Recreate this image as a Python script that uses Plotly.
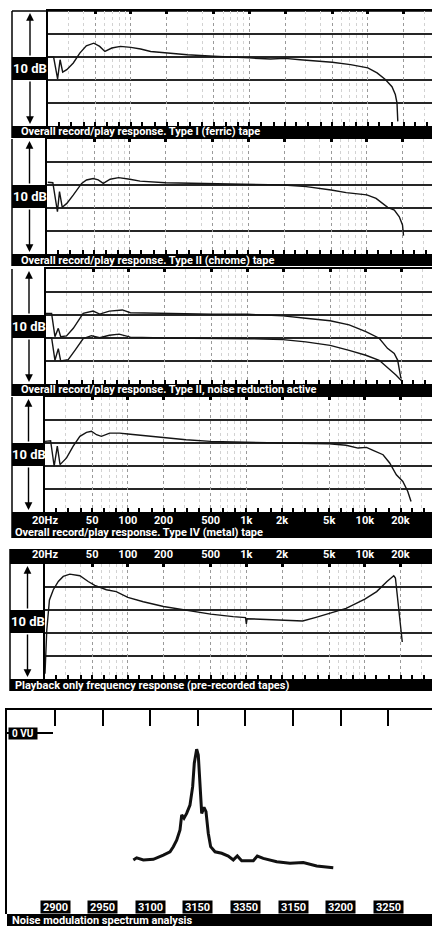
import numpy as np
import plotly.graph_objects as go

W, H = 432, 926
PX_DEC = 118.5   # pixels per decade on the frequency axis
PX_10DB = 23     # pixels per 10 dB division
FONT = "Roboto, Liberation Sans, sans-serif"
INK = "#141414"

############################## data ##############################

ferric_hz = [20, 22.3, 24.1, 25.3, 26.6, 28.8, 32.7, 37.1, 42.1, 48.7, 54.6, 60.4, 69.1, 81.7, 100,
             121, 147, 200, 300, 500, 747, 1000, 1507, 2000, 2686, 3981, 5000, 7142, 10000, 11970,
             14060, 15990, 17060, 17620, 17900]
ferric_db = [0, 0, -9.5, -1.2, -6.6, -5.5, -2.6, 1.7, 4.9, 6.0, 4.6, 2.4, 3.9, 4.6, 4.2,
             3.5, 2.4, 1.7, 1.0, 0.3, 0, -0.4, -0.9, -0.6, -1.2, -1.9, -2.3, -3.3, -4.7, -6.9,
             -9.8, -12.9, -16.3, -19.9, -28]

chrome_hz = [20.3, 22.4, 24.5, 25.5, 26.9, 29.4, 33.4, 39.2, 43.1, 49.1, 54.1, 59.7, 68.2, 80.4, 100,
             122, 200, 500, 1000, 2000, 3083, 3990, 5000, 6700, 8670, 10000, 11970, 15000, 17060,
             18790, 20000, 20400]
chrome_db = [1.2, 1.0, -11.6, -2.9, -9.7, -8.0, -4.3, 0.7, 2.2, 2.8, 2.2, 0.7, 2.5, 3.2, 2.5,
             1.7, 1.0, 0.7, 0.3, 0, -0.7, -1.4, -2.2, -3.3, -4.1, -4.3, -5.8, -9.7, -10.9,
             -13.8, -17.4, -22]

nr_hz = [20, 22.3, 23.8, 25.4, 26.6, 29.8, 34.0, 41.2, 50, 56.8, 68.5, 88.2, 103, 200, 500,
         1000, 2000, 3110, 5000, 7230, 10000, 12970, 15230, 17360, 18550, 19770]
nr_upper_db = [0.7, 0.7, -9.4, -5.8, -9.4, -9.1, -5.8, 0.7, 1.7, 0.4, 1.7, 2.2, 1.0, 0.7, 0.4,
               0.3, -0.4, -1.4, -2.5, -4.3, -7.2, -10.1, -14.5, -16.7, -19.6, -27.5]
nr_low_hz = [20, 22.3, 23.8, 25.4, 26.6, 30.8, 35.1, 41.2, 48.4, 56.8, 68.5, 82.8, 103, 200,
             1000, 2000, 3110, 5000, 7230, 10000, 12970, 15770, 17950, 20000]
nr_lower_db = [-9.9, -9.9, -19.7, -14.6, -20, -19.4, -15.4, -10.3, -9.0, -9.9, -8.8, -8.3, -9.6, -10,
               -10.3, -10.7, -11.7, -13.2, -15.4, -17.5, -19.7, -23.3, -26.1, -28.6]

metal_hz = [20, 22.3, 23.9, 25.4, 26.8, 30.4, 34.6, 39.4, 44.8, 49.3, 54.4, 59.8, 70.3, 85.2, 100,
            134, 200, 310, 500, 1000, 2000, 5000, 6950, 8770, 10330, 11740, 14250, 16200, 18450,
            20930, 23000, 24550]
metal_db = [0.7, 1.0, -10.1, -1.4, -9.4, -6.5, -1.4, 2.9, 4.6, 5.1, 3.6, 2.9, 4.3, 4.3, 3.9,
            3.2, 2.5, 1.4, 0.7, 0.3, 0, -0.3, -1.0, -2.2, -1.9, -3.2, -5.1, -8.7, -13.8,
            -16.7, -21, -25.4]

playback_hz = [20, 20.7, 21.8, 23.5, 25.9, 28.5, 32.4, 39.4, 46.3, 52.6, 65.9, 79.8, 100, 135, 200,
               314, 500, 774, 985, 1000, 1015, 1475, 2000, 2990, 3870, 5000, 6950, 10000, 12590,
               15380, 17540, 18120, 19350, 20700]
playback_db = [-27.7, -8.8, 4.4, 8.8, 12.4, 14.6, 15.6, 14.9, 12.4, 10.7, 8.8, 8.0, 5.5, 3.6, 1.5,
               0, -1.8, -2.9, -3.3, -6.0, -3.8, -4.1, -4.4, -4.8, -3.2, -1.5, 0.7, 4.7, 8.0,
               12.4, 14.9, 13.9, 1.5, -13.9]

spec_hz = [2982.3, 2985.8, 2992.8, 3003.3, 3013.8, 3020.8, 3024.3, 3027.8, 3031.3, 3033.1, 3035.5,
           3038.3, 3041.8, 3044.6, 3046.3, 3048.8, 3050.5, 3052.3, 3054.1, 3056.5, 3058.6, 3061.0,
           3063.5, 3068.1, 3075.1, 3082.0, 3087.3, 3091.5, 3096.1, 3108.3, 3112.5, 3118.8, 3132.9,
           3146.8, 3160.8, 3174.9, 3192.3]
spec_db = [-42.3, -41.6, -42.3, -42.1, -40.7, -39.6, -37.9, -35.7, -32.3, -27.3, -28.4,
           -26.8, -24.0, -17.9, -10.1, -5.4, -7.3, -17.9, -26.8, -24.8, -26.2, -33.4,
           -37.9, -39.6, -40.1, -41.0, -42.3, -41.0, -42.6, -42.6, -41.0, -41.8, -42.9,
           -43.4, -43.2, -44.3, -44.9]

major_hz = [20, 50, 100, 200, 500, 1000, 2000, 5000, 10000, 20000]
major_labels = ["20Hz", "50", "100", "200", "500", "1k", "2k", "5k", "10k", "20k"]
minor_hz = [30, 40, 60, 70, 80, 90, 300, 400, 600, 700, 800, 900,
            3000, 4000, 6000, 7000, 8000, 9000, 30000]
third_oct_hz = [20, 25, 31.5, 40, 50, 63, 80, 100, 125, 160, 200, 250, 315, 400, 500, 630, 800,
                1000, 1250, 1600, 2000, 2500, 3150, 4000, 5000, 6300, 8000, 10000, 12500, 16000,
                20000, 25000, 31500]

spec_ticks = [2900, 2950, 3000, 3050, 3100, 3150, 3200, 3250]
spec_labels = ["2900", "2950", "3100", "3150", "3350", "3150", "3200", "3250"]

############################## helpers ##############################

def py(p):
    return 1 - p / H

def pxx(p):
    return p / W

def rect(x0, y0, x1, y1):
    return dict(type="rect", xref="paper", yref="paper", x0=pxx(x0), x1=pxx(x1), y0=py(y1), y1=py(y0),
                fillcolor="black", line=dict(width=0), layer="below")

def vline(x, y0, y1, w=1.5):
    return dict(type="line", xref="paper", yref="paper", x0=pxx(x), x1=pxx(x), y0=py(y0), y1=py(y1),
                line=dict(color="black", width=w), layer="below")

def bold_font(size, color="white"):
    return dict(family=FONT, size=size, color=color, weight="bold")

def white_text(text, x, y, size=11, **kw):
    return dict(text=text, xref="paper", yref="paper", x=pxx(x), y=py(y), showarrow=False,
                xanchor=kw.pop("xanchor", "left"), yanchor=kw.pop("yanchor", "middle"),
                font=bold_font(size), **kw)

############################## frequency panels ##############################

# top px, x of the 20 Hz line, outer left edge, curves, caption, caption x, caption bar height
panels = [
    (11, 48, 12, [(ferric_hz, ferric_db)], "Overall record/play response. Type I (ferric) tape", 19, 12),
    (139, 47, 12, [(chrome_hz, chrome_db)], "Overall record/play response. Type II (chrome) tape", 19, 12),
    (269, 46, 12, [(nr_hz, nr_upper_db), (nr_low_hz, nr_lower_db)],
     "Overall record/play response. Type II, noise reduction active", 19, 12),
    (397, 45, 12, [(metal_hz, metal_db)], "Overall record/play response. Type IV (metal) tape", 13, 26),
    (564, 45, 10, [(playback_hz, playback_db)], "Playback only frequency response (pre-recorded tapes)", 13, 12),
]

fig = go.Figure()
layout = {}
shapes, annotations = [], []

for i, (top, left, outer, curves, caption, cap_x, cap_h) in enumerate(panels, start=1):
    bottom = top + 5 * PX_10DB
    n = "" if i == 1 else str(i)
    ov = str(i + 6)
    xr = [np.log10(20), np.log10(20) + (W - left) / PX_DEC]

    for hz, db in curves:
        fig.add_trace(go.Scatter(x=hz, y=db, xaxis="x" + n, yaxis="y" + n, mode="lines",
                                 line=dict(color=INK, width=1.4), showlegend=False, hoverinfo="skip"))
    fig.add_trace(go.Scatter(x=[], y=[], xaxis="x" + ov, yaxis="y" + n, showlegend=False))

    bottom_text = [major_labels[major_hz.index(f)] if (i == 4 and f in major_hz) else "" for f in third_oct_hz]
    layout["xaxis" + n] = dict(
        type="log", range=xr, domain=[pxx(left), 1], anchor="y" + n, automargin=False,
        tickmode="array", tickvals=third_oct_hz, ticktext=bottom_text,
        ticks="inside", ticklen=4, tickwidth=1.5, tickcolor="black",
        showticklabels=(i == 4), tickfont=bold_font(11),
        showgrid=False, zeroline=False, showline=False, tickangle=0)
    layout["xaxis" + ov] = dict(
        type="log", range=xr, overlaying="x" + n, anchor="y" + n, side="top", automargin=False,
        tickmode="array", tickvals=major_hz, ticktext=major_labels,
        ticks="inside", ticklen=3, tickwidth=2.5, tickcolor="black",
        showticklabels=(i == 5), tickfont=bold_font(11),
        showgrid=True, gridcolor="#9a9a9a", griddash="dot", gridwidth=1,
        minor=dict(tickmode="array", tickvals=minor_hz, showgrid=True, gridcolor="#d2d2d2",
                   griddash="dot", gridwidth=1, ticks=""),
        showline=True, linecolor="black", linewidth=1.5, zeroline=False, tickangle=0)
    layout["yaxis" + n] = dict(
        range=[-30, 20], domain=[py(bottom), py(top)], anchor="x" + n, automargin=False,
        tickmode="array", tickvals=[-20, -10, 0, 10], showticklabels=False, ticks="",
        showgrid=True, gridcolor="#262626", gridwidth=1.5, zeroline=False,
        showline=True, linecolor="black", linewidth=1.5)

    # label column: "10 dB" box and arrows
    mid = (outer + left) / 2
    shapes.append(rect(outer, top + 46, left, top + 69))
    annotations.append(white_text("10 dB", mid, top + 57.5, size=13, xanchor="center"))
    for head, tail in [(top + 2, top + 46), (bottom - 2, top + 69)]:
        annotations.append(dict(text="", xref="paper", yref="paper", x=pxx(mid), y=py(head),
                                ax=0, ay=tail - head, showarrow=True, arrowhead=2, arrowsize=1.1,
                                arrowwidth=1.4, arrowcolor="black"))

    # caption bar
    shapes.append(rect(outer, bottom, W, bottom + cap_h))
    annotations.append(white_text(caption, cap_x, bottom + cap_h - 6))
    shapes.append(vline(outer, top if i != 5 else top - 15, bottom + cap_h))

shapes.append(dict(type="line", xref="paper", yref="paper", x0=pxx(12), x1=1, y0=py(11), y1=py(11),
                   line=dict(color="black", width=1.5), layer="below"))
shapes.append(rect(10, 549, W, 564))

############################## spectrum panel ##############################

sp_left, sp_top, sp_bottom = 7, 710, 914
hz_per_px = 50 / 47.6
spec_range = [2900 + (sp_left - 55) * hz_per_px, 2900 + (W - 55) * hz_per_px]

fig.add_trace(go.Scatter(x=spec_hz, y=spec_db, xaxis="x6", yaxis="y6", mode="lines",
                         line=dict(color="#111111", width=3), showlegend=False, hoverinfo="skip"))
layout["xaxis6"] = dict(
    range=spec_range, domain=[pxx(sp_left), 1], anchor="y6", side="top", automargin=False,
    tickmode="array", tickvals=spec_ticks, showticklabels=False,
    ticks="inside", ticklen=16, tickwidth=1.5, tickcolor="black",
    showgrid=False, zeroline=False, showline=True, linecolor="black", linewidth=1.5)
layout["yaxis6"] = dict(
    range=[(733 - sp_bottom) / 3, (733 - sp_top) / 3], domain=[py(sp_bottom), py(sp_top)], anchor="x6",
    automargin=False, tickmode="array", tickvals=[0], showticklabels=False,
    ticks="inside", ticklen=46, tickwidth=1.5, tickcolor="black",
    showgrid=False, zeroline=False, showline=True, linecolor="black", linewidth=1.5)

annotations.append(dict(text="0 VU", xref="paper", yref="y6", x=pxx(23), y=0, showarrow=False,
                        xanchor="center", yanchor="middle", bgcolor="black", width=28, height=11,
                        borderpad=0, font=bold_font(10)))
for f, lab in zip(spec_ticks, spec_labels):
    annotations.append(dict(text=lab, xref="x6", yref="paper", x=f, y=py(907), showarrow=False,
                            xanchor="center", yanchor="middle", bgcolor="black", width=29, height=12,
                            borderpad=0, font=bold_font(11)))

shapes.append(rect(sp_left, sp_bottom, W, H + 5))
annotations.append(white_text("Noise modulation spectrum analysis", 10, 920))

fig.update_layout(
    width=W, height=H, margin=dict(l=0, r=0, t=0, b=0, autoexpand=False),
    paper_bgcolor="white", plot_bgcolor="white",
    shapes=shapes, annotations=annotations, hovermode=False,
    **layout)

fig.write_html("out.html", config={"displayModeBar": False},
               post_script="document.body.style.margin='0';")
